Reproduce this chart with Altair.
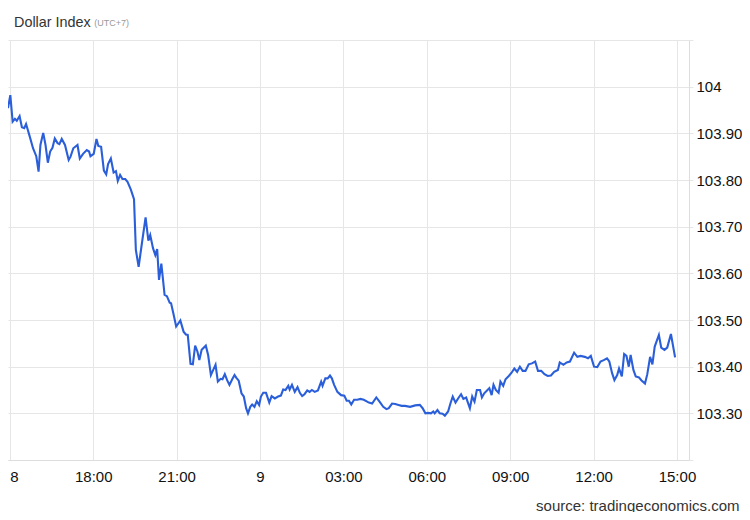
import altair as alt
import pandas as pd

# minutes after 15:00 on day 8 (UTC+7 local time)
minutes = [
    -4, 1, 6, 11, 15, 21, 26, 31, 35, 43,
    50, 57, 62, 66, 72, 77, 82, 87, 92, 97,
    103, 107, 112, 119, 127, 131, 137, 146, 151, 158,
    166, 171, 174, 181, 187, 191, 197, 203, 208, 212,
    218, 224, 229, 233, 238, 243, 249, 254, 261, 268,
    272, 278, 284, 293, 299, 303, 309, 314, 318, 322,
    327, 334, 339, 345, 348, 353, 359, 364, 368, 375,
    380, 384, 390, 395, 400, 405, 409, 414, 423, 428,
    434, 439, 444, 449, 455, 459, 464, 469, 474, 480,
    485, 489, 494, 500, 505, 510, 514, 519, 523, 528,
    533, 538, 542, 547, 553, 560, 565, 572, 579, 585,
    590, 595, 601, 604, 609, 615, 621, 626, 631, 636,
    642, 647, 652, 658, 665, 672, 675, 681, 686, 691,
    695, 700, 707, 715, 722, 727, 732, 737, 743, 750,
    757, 764, 775, 782, 791, 798, 806, 813, 818, 825,
    832, 839, 846, 853, 864, 875, 885, 891, 897, 903,
    909, 914, 917, 923, 928, 934, 939, 946, 951, 956,
    962, 969, 974, 979, 985, 988, 993, 998, 1003, 1008,
    1015, 1019, 1024, 1030, 1035, 1040, 1044, 1049, 1055, 1059,
    1065, 1070, 1077, 1083, 1089, 1095, 1101, 1107, 1113, 1120,
    1127, 1134, 1140, 1147, 1154, 1161, 1168, 1175, 1183, 1187,
    1195, 1202, 1209, 1218, 1225, 1232, 1241, 1248, 1254, 1261,
    1268, 1275, 1282, 1289, 1294, 1300, 1305, 1311, 1315, 1321,
    1326, 1331, 1336, 1340, 1346, 1351, 1358, 1363, 1371, 1376,
    1382, 1387, 1392, 1401, 1406, 1413, 1419, 1427, 1436,
]

values = [
    103.954, 103.982, 103.925, 103.931, 103.927, 103.937, 103.913, 103.911, 103.920, 103.893,
    103.868, 103.851, 103.818, 103.875, 103.901, 103.875, 103.837, 103.861, 103.869, 103.889,
    103.879, 103.877, 103.888, 103.875, 103.843, 103.850, 103.868, 103.875, 103.846, 103.856,
    103.864, 103.861, 103.851, 103.856, 103.888, 103.873, 103.871, 103.820, 103.812, 103.834,
    103.846, 103.816, 103.819, 103.798, 103.811, 103.802, 103.802, 103.796, 103.780, 103.759,
    103.650, 103.614, 103.657, 103.720, 103.670, 103.682, 103.654, 103.639, 103.652, 103.586,
    103.621, 103.554, 103.551, 103.537, 103.536, 103.514, 103.486, 103.493, 103.499, 103.475,
    103.469, 103.468, 103.406, 103.405, 103.445, 103.432, 103.414, 103.436, 103.445, 103.425,
    103.382, 103.393, 103.404, 103.368, 103.374, 103.373, 103.384, 103.371, 103.361, 103.373,
    103.382, 103.376, 103.370, 103.343, 103.336, 103.311, 103.300, 103.314, 103.319, 103.314,
    103.326, 103.318, 103.336, 103.344, 103.344, 103.323, 103.337, 103.332, 103.336, 103.338,
    103.351, 103.350, 103.359, 103.351, 103.361, 103.346, 103.356, 103.344, 103.337, 103.341,
    103.349, 103.346, 103.350, 103.346, 103.349, 103.368, 103.359, 103.375, 103.375, 103.381,
    103.375, 103.361, 103.346, 103.339, 103.338, 103.327, 103.327, 103.319, 103.329, 103.329,
    103.331, 103.329, 103.323, 103.321, 103.334, 103.325, 103.314, 103.309, 103.311, 103.321,
    103.320, 103.318, 103.316, 103.316, 103.314, 103.317, 103.318, 103.311, 103.300, 103.301,
    103.300, 103.304, 103.300, 103.307, 103.300, 103.299, 103.295, 103.304, 103.321, 103.336,
    103.323, 103.334, 103.341, 103.331, 103.334, 103.325, 103.311, 103.336, 103.325, 103.350,
    103.350, 103.334, 103.343, 103.349, 103.354, 103.339, 103.361, 103.350, 103.344, 103.368,
    103.359, 103.373, 103.380, 103.387, 103.396, 103.389, 103.400, 103.391, 103.391, 103.405,
    103.407, 103.411, 103.391, 103.391, 103.384, 103.380, 103.381, 103.389, 103.393, 103.409,
    103.404, 103.409, 103.411, 103.430, 103.421, 103.423, 103.421, 103.418, 103.423, 103.400,
    103.399, 103.411, 103.414, 103.418, 103.411, 103.386, 103.371, 103.382, 103.396, 103.379,
    103.427, 103.423, 103.400, 103.425, 103.393, 103.379, 103.377, 103.371, 103.364, 103.384,
    103.421, 103.405, 103.443, 103.468, 103.441, 103.436, 103.441, 103.470, 103.420,
]

y_ticks = [103.2, 103.3, 103.4, 103.5, 103.6, 103.7, 103.8, 103.9, 104.0, 104.1]
x_tick_hours = [0, 3, 6, 9, 12, 15, 18, 21, 24]
domain_minutes = [-4, 1466]

title_text = "Dollar Index"
tz_text = "(UTC+7)"
source_text = "source: tradingeconomics.com"

base = pd.Timestamp("2023-08-08T15:00:00Z")
n = min(len(minutes), len(values))
times = [(base + pd.Timedelta(minutes=m)).strftime("%Y-%m-%dT%H:%M:%SZ") for m in minutes[:n]]
df = pd.DataFrame({"time": times, "value": values[:n]})

def ms(ts):
    return int(ts.value // 10**6)

x_domain = [ms(base + pd.Timedelta(minutes=m)) for m in domain_minutes]
x_values = [ms(base + pd.Timedelta(hours=h)) for h in x_tick_hours]

FONT = "Liberation Sans"
GRID = "#e6e6e6"

x_label_expr = (
    "(utchours(datum.value) == 0 || (utcdate(datum.value) == 8 && utchours(datum.value) == 15))"
    " ? utcFormat(datum.value, '%-d') : utcFormat(datum.value, '%H:%M')"
)
y_label_expr = (
    "(datum.value > 104.05 || datum.value < 103.25) ? '' : "
    "(abs(datum.value - 104) < 0.001 ? '104' : format(datum.value, '.2f'))"
)

line = alt.Chart(df).mark_line(color="#2b5fd9", strokeWidth=2.1, clip=True).encode(
    x=alt.X(
        "time:T",
        scale=alt.Scale(type="utc", domain=x_domain, nice=False),
        axis=alt.Axis(
            values=x_values,
            labelExpr=x_label_expr,
            grid=True,
            gridColor=GRID,
            ticks=False,
            domainColor="#dddddd",
            labelFont=FONT,
            labelFontSize=15,
            labelColor="#111111",
            labelPadding=21,
            labelBaseline="alphabetic",
            labelFlush=3,
            labelOverlap=False,
            labelBound=False,
            title=None,
        ),
    ),
    y=alt.Y(
        "value:Q",
        scale=alt.Scale(domain=[103.2, 104.1], zero=False, nice=False),
        axis=alt.Axis(
            orient="right",
            values=y_ticks,
            labelExpr=y_label_expr,
            grid=True,
            gridColor=GRID,
            tickColor=GRID,
            tickSize=4,
            domainColor="#dddddd",
            labelFont=FONT,
            labelFontSize=15,
            labelColor="#111111",
            labelPadding=3,
            labelOverlap=False,
            title=None,
        ),
    ),
)

title_mark = alt.Chart(pd.DataFrame({"t": [title_text]})).mark_text(
    font=FONT, fontSize=14.4, color="#333333", align="left", baseline="alphabetic"
).encode(text="t:N", x=alt.value(6), y=alt.value(-13.5))

tz_mark = alt.Chart(pd.DataFrame({"t": [tz_text]})).mark_text(
    font=FONT, fontSize=9, color="#999999", align="left", baseline="alphabetic"
).encode(text="t:N", x=alt.value(86.3), y=alt.value(-14))

source_mark = alt.Chart(pd.DataFrame({"t": [source_text]})).mark_text(
    font=FONT, fontSize=15, color="#333333", align="right", baseline="alphabetic"
).encode(text="t:N", x=alt.value(731.5), y=alt.value(470.5))

chart = alt.layer(line, title_mark, tz_mark, source_mark).properties(
    width=681,
    height=420,
    padding={"left": 0, "top": 32, "right": 53, "bottom": 52},
    autosize=alt.AutoSizeParams(type="none"),
).configure_view(stroke=None)

chart.save("out.html", embed_options={"renderer": "svg", "actions": False})
